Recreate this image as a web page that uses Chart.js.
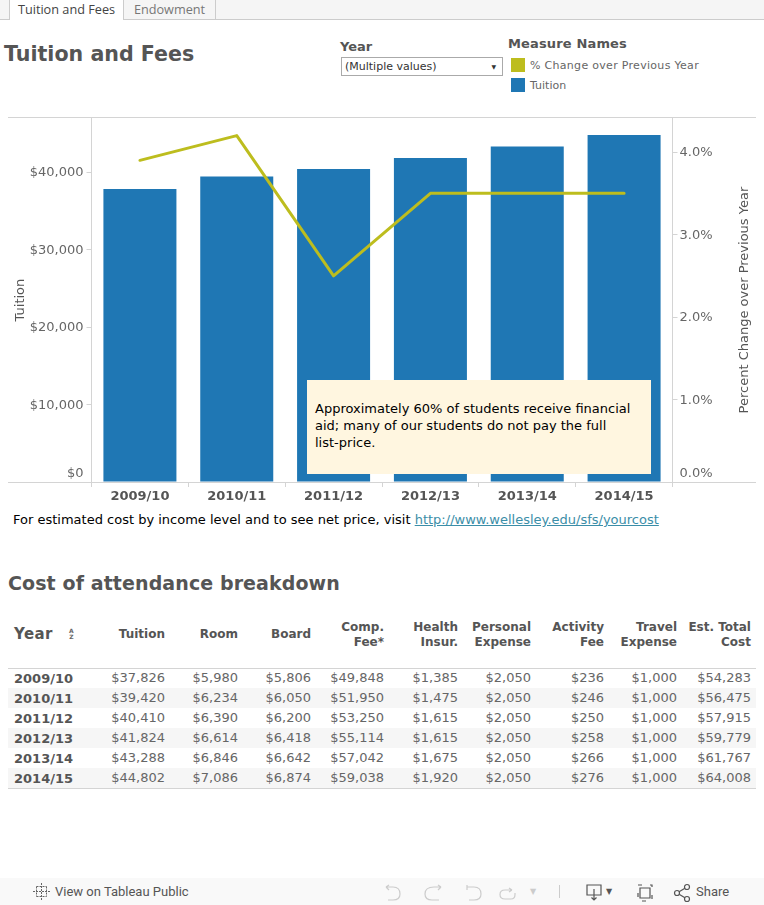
<!DOCTYPE html>
<html><head><meta charset="utf-8">
<script src="https://cdn.jsdelivr.net/npm/chart.js@4"></script>
<style>
html,body{margin:0;padding:0;background:#fff;overflow:hidden}
body{width:764px;height:905px;position:relative;font-family:"DejaVu Sans",sans-serif;color:#555}
.a{position:absolute;white-space:nowrap}
#tabs{left:0;top:0;width:764px;height:19px;background:#f5f5f5;border-bottom:1px solid #ccc}
.tab{position:absolute;top:0;height:20px;font:12.7px/19px "Open Sans",sans-serif;text-align:center;box-sizing:border-box}
#t1{left:9px;width:115px;background:#fff;color:#444;border-left:1px solid #ccc;border-right:1px solid #ccc}
#t2{left:124px;width:92px;color:#777;border-right:1px solid #ccc;height:19px}
#c{position:absolute;left:0;top:106px;width:764px;height:404px}
.sw{position:absolute;width:14px;height:14px}
#note{left:307px;top:380px;width:344px;height:94px;background:#fff6e0;color:#000;font-size:13px;line-height:17px;box-sizing:border-box;padding:20px 18px 20px 8px;white-space:normal}
#tbl .c{position:absolute;text-align:right;font-size:13px;line-height:20px;color:#666;white-space:nowrap}
#tbl .h{position:absolute;text-align:right;font-size:12px;line-height:15px;font-weight:bold;color:#555;white-space:nowrap}
#foot{left:0;top:878px;width:764px;height:27px;background:#f9f9f9}
#foot svg{position:absolute;overflow:visible}
</style></head><body>
<div class="a" id="tabs"></div>
<div class="tab" id="t1">Tuition and Fees</div><div class="tab" id="t2">Endowment</div>
<div class="a" style="left:4px;top:41px;font-size:20.6px;font-weight:bold;line-height:26px;color:#555">Tuition and Fees</div>
<div class="a" style="left:340px;top:39px;font-size:13px;font-weight:bold;line-height:16px">Year</div>
<div class="a" style="left:341px;top:57px;width:162px;height:19px;border:1px solid #aaa;box-sizing:border-box;font-size:11px;line-height:17px;padding-left:3px;color:#333">(Multiple values)<span style="position:absolute;right:6px;top:0;font-size:6px;color:#333">▼</span></div>
<div class="a" style="left:508px;top:36px;font-size:13px;font-weight:bold;line-height:16px;letter-spacing:.15px">Measure Names</div>
<div class="sw" style="left:511px;top:58px;background:#bdbd1e"></div>
<div class="a" style="left:530px;top:59px;font-size:11px;line-height:14px;color:#666;letter-spacing:.3px" id="lg0"></div>
<div class="sw" style="left:511px;top:78px;background:#1f77b4"></div>
<div class="a" style="left:530px;top:79px;font-size:11px;line-height:14px;color:#666" id="lg1"></div>
<canvas id="c" width="764" height="404"></canvas>
<div class="a" id="note">Approximately 60% of students receive financial aid; many of our students do not pay the full list-price.</div>
<div class="a" style="left:13px;top:511px;font-size:13px;line-height:17px;color:#000">For estimated cost by income level and to see net price, visit <span style="color:#3b8ea8;text-decoration:underline">http://www.wellesley.edu/sfs/yourcost</span></div>
<div class="a" style="left:8px;top:571px;font-size:19px;font-weight:bold;line-height:24px;color:#555;letter-spacing:.1px">Cost of attendance breakdown</div>
<div id="tbl"></div>
<div class="a" id="foot">
<svg style="left:33px;top:5px" width="18" height="18" stroke="#666" fill="none" stroke-width="1" stroke-dasharray="2 1"><path d="M8.5 0V17M0 8.5H17M3.500 3.500V13.500M13.500 3.500V13.500M3.500 3.500H13.500M3.500 13.500H13.500"/></svg>
<div class="a" style="left:55px;top:6px;font:13px/16px Roboto,sans-serif;color:#555">View on Tableau Public</div>
<svg style="left:384px;top:7px" width="130" height="18" stroke="#ccc" fill="none" stroke-width="1.200"><path d="M2 2H9Q16 2 16 9Q16 15 9 15H4M2 2L5 0M2 2L5 5"/><path d="M57 2H50Q41 2 41 9Q41 15 48 15H55M57 2L54 0M57 2L54 5"/><path d="M83 0V5M83 2H90Q97 2 97 9Q97 15 90 15H85"/><path d="M128 5H121Q116 5 116 9.500Q116 14 121 14H127Q131 14 131 9.500V8M128 5L125 3M128 5L125 7"/></svg>
<div class="a" style="left:530px;top:9px;font-size:8px;color:#ccc">▼</div>
<div class="a" style="left:559px;top:7px;width:1px;height:13px;background:#ccc"></div>
<svg style="left:586px;top:6px" width="180" height="20" stroke="#555" fill="none" stroke-width="1.200"><path d="M1 1H15V11H1ZM8 5V16M5.500 13.500L8 16L10.500 13.500"/><path d="M52 1H66V17H52Z" stroke-dasharray="4 8"/><path d="M54 4H64V14H54Z"/><path d="M91 9L101 3M91 9L101 15"/><circle cx="91" cy="9" r="2.500" fill="#f9f9f9"/><circle cx="101" cy="3" r="2.500" fill="#f9f9f9"/><circle cx="101" cy="15" r="2.500" fill="#f9f9f9"/></svg>
<div class="a" style="left:606px;top:9px;font-size:8px;color:#555">▼</div>
<div class="a" style="left:696px;top:6px;font:13px/16px Roboto,sans-serif;color:#555">Share</div>
</div>
<script>
const years = ["2009/10","2010/11","2011/12","2012/13","2013/14","2014/15"];
const tuition = [37826,39420,40410,41824,43288,44802];
const pctChange = [3.9,4.2,2.5,3.5,3.5,3.5];
const room = [5980,6234,6390,6614,6846,7086];
const board = [5806,6050,6200,6418,6642,6874];
const compFee = [49848,51950,53250,55114,57042,59038];
const healthInsur = [1385,1475,1615,1615,1675,1920];
const personalExpense = [2050,2050,2050,2050,2050,2050];
const activityFee = [236,246,250,258,266,276];
const travelExpense = [1000,1000,1000,1000,1000,1000];
const estTotalCost = [54283,56475,57915,59779,61767,64008];
const seriesNames = ["% Change over Previous Year","Tuition"];
const tuitionTicks = [0,10000,20000,30000,40000];
const pctTicks = [0,1,2,3,4];

document.getElementById('lg0').textContent = seriesNames[0];
document.getElementById('lg1').textContent = seriesNames[1];

const money = v => '$' + v.toLocaleString('en-US');
const columns = [
  [["Tuition"],tuition,165],[["Room"],room,238],[["Board"],board,311],
  [["Comp.","Fee*"],compFee,384],[["Health","Insur."],healthInsur,458],
  [["Personal","Expense"],personalExpense,531],[["Activity","Fee"],activityFee,604],
  [["Travel","Expense"],travelExpense,677],[["Est. Total","Cost"],estTotalCost,751]
];
let html = '';
html += '<div class="a" style="left:8px;top:668px;width:748px;height:1px;background:#d4d4d4"></div>';
html += '<div class="a" style="left:8px;top:788px;width:748px;height:1px;background:#d4d4d4"></div>';
years.forEach((y,i)=>{
  if(i%2===1) html += `<div class="a" style="left:8px;top:${668+i*20}px;width:748px;height:20px;background:#f6f6f6"></div>`;
});
html += '<div class="a" style="left:14px;top:625px;font-size:15px;font-weight:bold;line-height:18px;color:#555;letter-spacing:.4px">Year</div>';
html += '<div class="a" style="left:69px;top:628px;font-size:6px;line-height:6px;font-weight:bold;color:#666;text-align:center">A<br>Z</div>';
years.forEach((y,i)=>{
  html += `<div class="c" style="left:14px;top:${669+i*20}px;font-weight:bold;color:#555;text-align:left">${y}</div>`;
});
columns.forEach(([head,vals,right])=>{
  const top = head.length===2 ? 620 : 627;
  html += `<div class="h" style="right:${764-right}px;top:${top}px">${head.join('<br>')}</div>`;
  vals.forEach((v,i)=>{
    html += `<div class="c" style="right:${764-right}px;top:${668+i*20}px">${money(v)}</div>`;
  });
});
document.getElementById('tbl').innerHTML = html;

const framePlugin = {
  id:'frame',
  afterDraw(chart){
    const {ctx,chartArea:a,scales} = chart;
    ctx.save();
    ctx.strokeStyle='#d4d4d4';ctx.lineWidth=1;
    ctx.beginPath();
    ctx.moveTo(8,Math.round(a.top)-.5);ctx.lineTo(756,Math.round(a.top)-.5);
    ctx.moveTo(8,Math.round(a.bottom)+.5);ctx.lineTo(756,Math.round(a.bottom)+.5);
    ctx.stroke();
    const t = scales.y1.options.title;
    ctx.translate(744.5,(a.top+a.bottom)/2);
    ctx.rotate(-Math.PI/2);
    ctx.fillStyle=t.color;ctx.font='13px "DejaVu Sans"';ctx.textAlign='center';ctx.textBaseline='middle';
    ctx.fillText(t.text,0,0);
    ctx.restore();
  }
};
const grid = {drawOnChartArea:false,drawTicks:true,tickLength:5,color:'#d4d4d4'};
new Chart(document.getElementById('c'),{
  data:{labels:years,datasets:[
    {type:'line',label:seriesNames[0],data:pctChange,yAxisID:'y1',borderColor:'#bdbd1e',borderWidth:3,pointRadius:0,tension:0,order:0,borderJoinStyle:'round',borderCapStyle:'round'},
    {type:'bar',label:seriesNames[1],data:tuition,yAxisID:'y',backgroundColor:'#1f77b4',categoryPercentage:1,barPercentage:.754,order:1}
  ]},
  options:{
    responsive:false,animation:false,
    layout:{padding:{top:0,left:0,right:0,bottom:0}},
    plugins:{legend:{display:false},tooltip:{enabled:false}},
    scales:{
      x:{position:'bottom',offset:true,grid:{...grid,tickLength:5},border:{display:false},
         ticks:{color:'#555',font:{size:13,weight:'bold',family:'"DejaVu Sans"'},padding:2,maxRotation:0},
         afterFit(s){s.height=28}},
      y:{position:'left',min:0,max:46968,
         afterBuildTicks(s){s.ticks=tuitionTicks.map(v=>({value:v}))},
         grid:{...grid},border:{color:'#d4d4d4'},
         title:{display:true,text:'Tuition',color:'#555',font:{size:13,family:'"DejaVu Sans"'},padding:{top:13,bottom:0}},
         ticks:{color:'#666',padding:3,labelOffset:1,font:{size:13,family:'"DejaVu Sans"',lineHeight:1.4},
           callback:v=>v===0?['$0','']:money(v)},
         afterFit(s){s.width=91.5}},
      y1:{position:'right',min:0,max:4.412,
         afterBuildTicks(s){s.ticks=pctTicks.map(v=>({value:v}))},
         grid:{...grid},border:{color:'#d4d4d4'},
         title:{display:false,text:'Percent Change over Previous Year',color:'#555'},
         ticks:{color:'#666',padding:2,labelOffset:1,font:{size:13,family:'"DejaVu Sans"',lineHeight:1.4},
           callback:v=>v===0?['0.0%','']:v.toFixed(1)+'%'},
         afterFit(s){s.width=91.5}}
    }
  },
  plugins:[framePlugin]
});
</script>
</body></html>
